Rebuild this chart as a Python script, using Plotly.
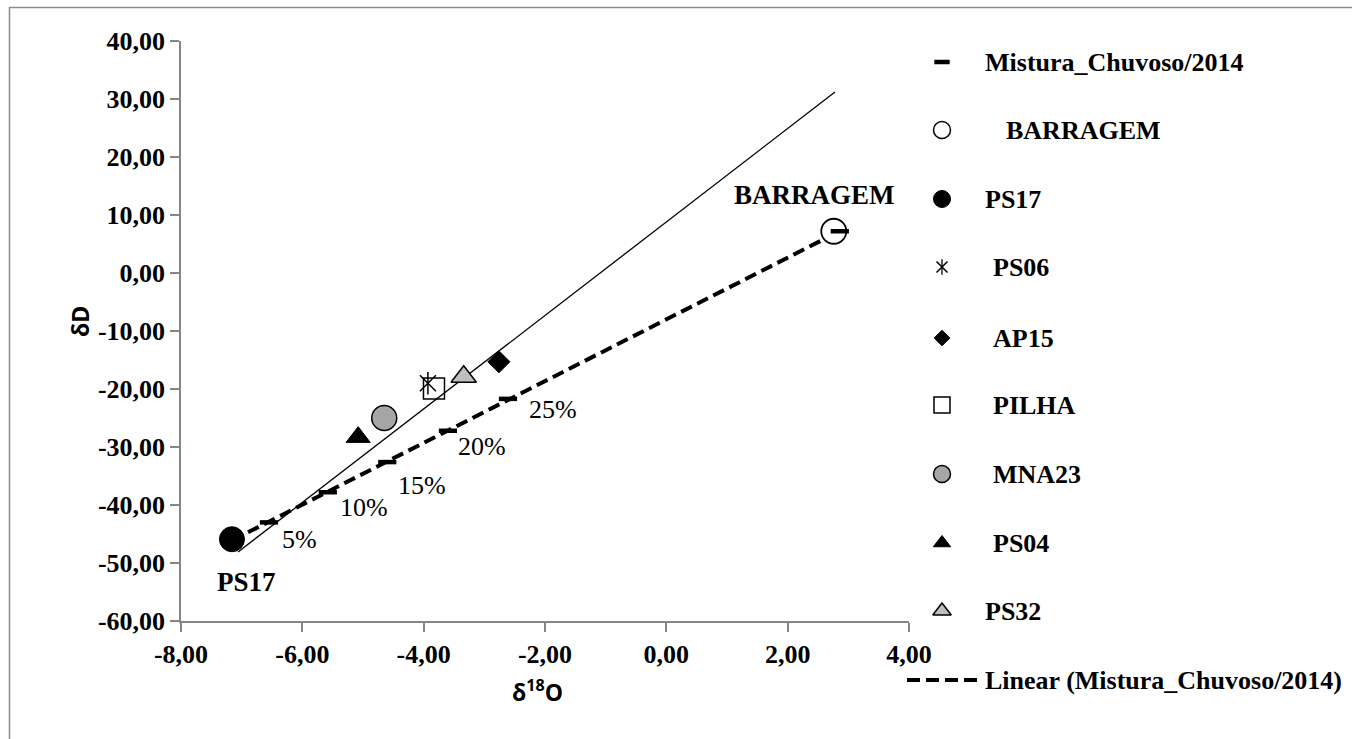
import numpy as np
import plotly.graph_objects as go

W, H = 1352, 739

# ---------------- data ----------------
X_TICKS = [-8, -6, -4, -2, 0, 2, 4]
X_TICK_TEXT = ["-8,00", "-6,00", "-4,00", "-2,00", "0,00", "2,00", "4,00"]
Y_TICKS = [40, 30, 20, 10, 0, -10, -20, -30, -40, -50, -60]
Y_TICK_TEXT = ["40,00", "30,00", "20,00", "10,00", "0,00", "-10,00",
               "-20,00", "-30,00", "-40,00", "-50,00", "-60,00"]

# mixing series Mistura_Chuvoso/2014 (0%, 5%, 10%, 15%, 20%, 25%, 100%)
MIX_X = [-7.16, -6.55, -5.58, -4.60, -3.60, -2.61, 2.86]
MIX_Y = [-45.9, -43.0, -37.8, -32.6, -27.2, -21.7, 7.2]

SAMPLES = ["BARRAGEM", "PS17", "PS06", "AP15", "PILHA", "MNA23", "PS04", "PS32"]
SAMPLE_X = [2.76, -7.16, -3.93, -2.76, -3.83, -4.65, -5.08, -3.34]
SAMPLE_Y = [7.2, -45.9, -19.0, -15.3, -19.9, -25.0, -28.3, -17.9]

# meteoric water line (solid)
MWL_X = [-7.06, 2.78]
MWL_Y = [-48.1, 31.2]

PCT_TEXT = ["5%", "10%", "15%", "20%", "25%"]
PCT_X = [-6.04, -4.98, -4.03, -3.04, -1.87]
PCT_Y = [-46.0, -40.5, -36.6, -30.0, -23.6]

# ---------------- styles ----------------
STYLE = {
    "BARRAGEM": dict(symbol="circle", size=25, color="white", lc="black", lw=1.8),
    "PS17": dict(symbol="circle", size=25, color="black", lc="black", lw=1),
    "PS06": dict(symbol="x-thin-open", size=16, color="black", lc="black", lw=1.5),
    "AP15": dict(symbol="diamond", size=17, color="black", lc="black", lw=1),
    "PILHA": dict(symbol="square-open", size=21, color="black", lc="black", lw=1.5),
    "MNA23": dict(symbol="circle", size=25, color="#a6a6a6", lc="black", lw=1.5),
    "PS04": dict(symbol="triangle-up", size=21, color="black", lc="black", lw=1),
    "PS32": dict(symbol="triangle-up", size=22, color="#bfbfbf", lc="black", lw=1.5),
}

SERIF = "Liberation Serif"
AX_COL = "#868686"

fig = go.Figure()

# solid line
fig.add_trace(go.Scatter(x=MWL_X, y=MWL_Y, mode="lines",
                         line=dict(color="black", width=1.3), hoverinfo="skip"))

# linear trend of mixing series
coef = np.polyfit(MIX_X, MIX_Y, 1)
tx = np.array([min(MIX_X), max(MIX_X)])
fig.add_trace(go.Scatter(x=tx, y=np.polyval(coef, tx), mode="lines",
                         line=dict(color="black", width=4, dash="12px,6px"),
                         hoverinfo="skip"))

def add_sample(name):
    i = SAMPLES.index(name)
    s = STYLE[name]
    fig.add_trace(go.Scatter(
        x=[SAMPLE_X[i]], y=[SAMPLE_Y[i]], mode="markers", name=name,
        marker=dict(symbol=s["symbol"], size=s["size"], color=s["color"],
                    line=dict(color=s["lc"], width=s["lw"]))))
    if name == "PS06":
        fig.add_trace(go.Scatter(
            x=[SAMPLE_X[i]], y=[SAMPLE_Y[i]], mode="markers",
            marker=dict(symbol="line-ns-open", size=16, color="black",
                        line=dict(color="black", width=1.5))))

add_sample("BARRAGEM")
fig.add_trace(go.Scatter(x=MIX_X, y=MIX_Y, mode="markers", name="Mistura_Chuvoso/2014",
                         marker=dict(symbol="line-ew-open", size=13, color="black",
                                     line=dict(color="black", width=4.5))))
for nm in ["PS17", "MNA23", "PS04", "PS06", "PILHA", "PS32", "AP15"]:
    add_sample(nm)

# ---------------- legend (pixel axes) ----------------
LEG_X = 942
LEG_ITEMS = [
    ("Mistura_Chuvoso/2014", 62, 983),
    ("BARRAGEM", 130, 1004),
    ("PS17", 199, 983),
    ("PS06", 267, 991),
    ("AP15", 338, 991),
    ("PILHA", 405, 991),
    ("MNA23", 474, 991),
    ("PS04", 543, 991),
    ("PS32", 611, 983),
    ("Linear (Mistura_Chuvoso/2014)", 680, 983),
]
LEG_SIZE = {"BARRAGEM": 17, "PS17": 17, "PS06": 11, "AP15": 12, "PILHA": 16,
            "MNA23": 17, "PS04": 15, "PS32": 16}

for label, ly, tx0 in LEG_ITEMS:
    if label == "Mistura_Chuvoso/2014":
        fig.add_trace(go.Scatter(x=[LEG_X], y=[ly], xaxis="x2", yaxis="y2", mode="markers",
                                 marker=dict(symbol="line-ew-open", size=11, color="black",
                                             line=dict(color="black", width=4.5))))
    elif label.startswith("Linear"):
        fig.add_trace(go.Scatter(x=[907, 977], y=[ly, ly], xaxis="x2", yaxis="y2", mode="lines",
                                 line=dict(color="black", width=4, dash="13px,6px")))
    else:
        s = STYLE[label]
        fig.add_trace(go.Scatter(x=[LEG_X], y=[ly], xaxis="x2", yaxis="y2", mode="markers",
                                 marker=dict(symbol=s["symbol"], size=LEG_SIZE[label],
                                             color=s["color"],
                                             line=dict(color=s["lc"], width=min(s["lw"], 1.5)))))
        if label == "PS06":
            fig.add_trace(go.Scatter(x=[LEG_X], y=[ly], xaxis="x2", yaxis="y2", mode="markers",
                                     marker=dict(symbol="line-ns-open", size=11, color="black",
                                                 line=dict(color="black", width=1.3))))
    fig.add_annotation(x=tx0, y=ly, xref="x2", yref="y2", text=label, showarrow=False,
                       xanchor="left", yanchor="middle",
                       font=dict(family=SERIF, size=26, color="black", weight="bold"))

# ---------------- annotations on chart ----------------
for t, x, y in zip(PCT_TEXT, PCT_X, PCT_Y):
    fig.add_annotation(x=x, y=y, text=t, showarrow=False, xanchor="center", yanchor="middle",
                       font=dict(family=SERIF, size=26, color="black"))

fig.add_annotation(x=2.45, y=13.45, text="BARRAGEM", showarrow=False,
                   xanchor="center", yanchor="middle",
                   font=dict(family=SERIF, size=27, color="black", weight="bold"))
fig.add_annotation(x=-6.92, y=-53.3, text="PS17", showarrow=False,
                   xanchor="center", yanchor="middle",
                   font=dict(family=SERIF, size=27, color="black", weight="bold"))

# axis titles
fig.add_annotation(x=80, y=322, xref="x2", yref="y2", text="δD", textangle=-90,
                   showarrow=False, xanchor="center", yanchor="middle",
                   font=dict(family="Open Sans", size=23, color="black", weight="bold"))
fig.add_annotation(x=537, y=691, xref="x2", yref="y2", text="δ<sup>18</sup>O",
                   showarrow=False, xanchor="center", yanchor="middle",
                   font=dict(family="Open Sans", size=23, color="black", weight="bold"))

# outer border (extends past right and bottom edges)
fig.add_shape(type="rect", xref="paper", yref="paper",
              x0=9.5 / W, y0=1 - 7.5 / H, x1=1.05, y1=-0.05,
              line=dict(color="#8c8c8c", width=1.5), fillcolor="rgba(0,0,0,0)", layer="below")

tickfont = dict(family=SERIF, size=26, color="black", weight="bold")
fig.update_layout(
    width=W, height=H, margin=dict(l=0, r=0, t=0, b=0, pad=0),
    paper_bgcolor="white", plot_bgcolor="rgba(0,0,0,0)", showlegend=False,
    xaxis=dict(domain=[181 / W, 909 / W], range=[-8, 4], tickmode="array",
               tickvals=X_TICKS, ticktext=X_TICK_TEXT, showgrid=False, zeroline=False,
               showline=True, linecolor=AX_COL, linewidth=1.5, ticks="outside",
               ticklen=9, tickcolor=AX_COL, tickwidth=1.5, tickfont=tickfont,
               anchor="y", fixedrange=True, automargin=False),
    yaxis=dict(domain=[(H - 621) / H, (H - 41) / H], range=[-60, 40], tickmode="array",
               tickvals=Y_TICKS, ticktext=Y_TICK_TEXT, showgrid=False, zeroline=False,
               showline=True, linecolor=AX_COL, linewidth=1.5, ticks="outside",
               ticklen=9, tickcolor=AX_COL, tickwidth=1.5, tickfont=tickfont,
               anchor="x", fixedrange=True, automargin=False),
    xaxis2=dict(domain=[0, 1], range=[0, W], visible=False, anchor="y2",
                fixedrange=True, automargin=False),
    yaxis2=dict(domain=[0, 1], range=[H, 0], visible=False, anchor="x2",
                fixedrange=True, automargin=False),
)

fig.write_html("out.html")
